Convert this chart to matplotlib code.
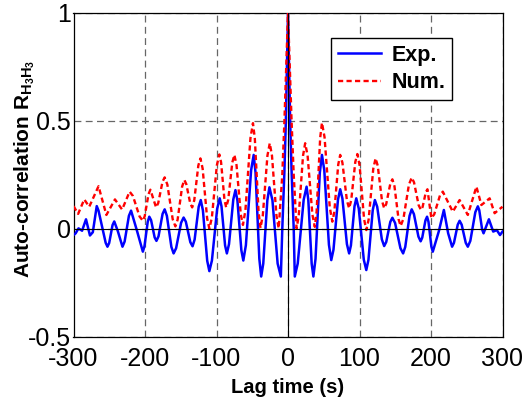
import matplotlib
matplotlib.use('Agg')
import matplotlib.pyplot as plt

plt.rcParams['font.family'] = ['Liberation Sans', 'DejaVu Sans']
plt.rcParams['axes.unicode_minus'] = False
plt.rcParams['mathtext.fontset'] = 'custom'
plt.rcParams['mathtext.rm'] = 'Liberation Sans'
plt.rcParams['mathtext.bf'] = 'Liberation Sans:bold'
plt.rcParams['mathtext.it'] = 'Liberation Sans:italic'

# ---- data ----
lag_exp = [-300, -297, -293, -288, -282.5, -277, -273, -267.5, -265, -261, -255, -252.5,
           -250.1, -245.4, -243, -238, -231.5, -228.5, -222.5, -219.5, -211.5, -203,
           -200.8, -196.2, -194, -191.5, -186.5, -184, -181.1, -175.4, -172.5,
           -169.4, -163.1, -160, -156.5, -149.5, -146, -142.9, -136.6, -133.5,
           -130.6, -124.9, -122, -119, -113, -110, -106.4, -99.1, -95.5, -93, -88,
           -85.5, -82.5, -76.5, -73.5, -70.75, -65.25, -62.5, -58.9, -51.6, -48,
           -45.4, -40.1, -37.5, -34.6, -28.9, -26, -21.75, -14.5, -10, -8, -5, -3,
           0,
           3, 5, 8, 9.5, 13.6, 21.9, 26, 28.4, 33.1, 35.5, 38.5, 44.5, 47.5, 50.75,
           57.25, 60.5, 63.6, 69.9, 73, 76.1, 82.4, 85.5, 88, 93, 95.5, 99, 106,
           109.5, 112.5, 118.5, 121.5, 124.75, 131.25, 134.5, 137.4, 143.1, 146,
           149.75, 157.25, 161, 164, 170, 173, 176.1, 182.4, 185.5, 187.75, 192.25,
           194.5, 196.5, 200.5, 202.5, 211, 218, 224, 229.5, 232.1, 237.4, 240,
           242.9, 248.6, 251.5, 255, 262, 265.5, 267.5, 271.5, 273.5, 281, 287,
           292, 296.5, 300]
val_exp = [-0.028, -0.02, 0.003, -0.008, 0.045, -0.03, -0.015, 0.106, 0.085, 0.025, -0.064, -0.082,
           -0.065, 0.018, 0.035, -0.01, -0.082, -0.058, 0.061, 0.085, -0.005, -0.105,
           -0.081, 0.033, 0.057, 0.041, -0.039, -0.055, -0.034, 0.07, 0.091,
           0.061, -0.083, -0.113, -0.089, 0.029, 0.053, 0.034, -0.061, -0.08,
           -0.049, 0.103, 0.134, 0.086, -0.147, -0.195, -0.146, 0.093, 0.142, 0.105, -0.076,
           -0.113, -0.07, 0.137, 0.18, 0.132, -0.098, -0.146, -0.075, 0.272, 0.343,
           0.261, -0.138, -0.22, -0.16, 0.133, 0.193, 0.133, -0.16, -0.22, 0.0, 0.27, 0.5,
           1.0,
           0.5, 0.27, 0.0, -0.22, -0.16, 0.135, 0.196, 0.135, -0.16, -0.22, -0.138, 0.261, 0.343, 0.272,
           -0.073, -0.144, -0.096, 0.136, 0.184, 0.141, -0.07, -0.113, -0.076, 0.105, 0.142, 0.094, -0.142,
           -0.19, -0.143, 0.087, 0.134, 0.103, -0.048, -0.079, -0.06, 0.033, 0.052,
           0.028, -0.089, -0.113, -0.083, 0.061, 0.091, 0.069, -0.035, -0.057, -0.04, 0.04,
           0.057, 0.033, -0.081, -0.105, -0.01, 0.088, -0.02, -0.082, -0.064, 0.02, 0.038,
           0.02, -0.064, -0.082, -0.055, 0.078, 0.105, 0.087, -0.002, -0.02, 0.045, -0.012,
           -0.005, -0.028, -0.012]

lag_num = [-300, -293.5, -285, -278, -265, -254, -242, -232, -221.5, -216.9, -207.6, -203,
           -200.4, -195.1, -192.5, -184.5, -181.5, -175.5, -172.5, -168.75, -161.25,
           -157.5, -154.4, -148.1, -145, -142.25, -136.75, -134, -131.1, -125.4,
           -122.5, -119.4, -113.1, -110, -106.5, -99.5, -96, -93.6, -88.9, -86.5,
           -83.6, -77.9, -75, -72, -66, -63, -59.5, -52.5, -49, -46.4, -41.1, -38.5,
           -35.25, -28.75, -25.5, -22.4, -16.1, -13, -8, -5,
           0,
           5, 8, 12, 15, 21, 24, 27.4, 34.1, 37.5, 40, 45, 47.5, 51.1, 58.4, 62,
           64.75, 70.25, 73, 76.1, 82.4, 85.5, 88.4, 94.1, 97, 100.1, 106.4, 109.5,
           112.75, 119.25, 122.5, 125.5, 131.5, 134.5, 137.4, 143.1, 146, 148.9,
           154.6, 157.5, 161.4, 169.1, 173, 176.25, 182.75, 186, 188.25, 192.75,
           195, 200.5, 204.5, 212.5, 216.5, 230.5, 240, 251.5, 263.5, 270.5, 282,
           289, 295, 300]
val_num = [0.106, 0.07, 0.137, 0.103, 0.198, 0.065, 0.137, 0.09, 0.173, 0.153, 0.058, 0.038,
           0.059, 0.161, 0.182, 0.1, 0.12, 0.219, 0.239, 0.206, 0.045,
           0.012, 0.043, 0.196, 0.227, 0.208, 0.119, 0.1, 0.133, 0.294,
           0.327, 0.28, 0.049, 0.002, 0.052, 0.295, 0.345, 0.309, 0.136, 0.1,
           0.135, 0.308, 0.343, 0.296, 0.066, 0.019, 0.088, 0.421, 0.49, 0.419, 0.076, 0.005,
           0.062, 0.34, 0.397, 0.339, 0.061, 0.003, 0.25, 0.5,
           1.0,
           0.5, 0.25, 0.003, 0.061, 0.339, 0.397, 0.34, 0.067, 0.01, 0.08, 0.422, 0.492, 0.425, 0.101, 0.034,
           0.079, 0.298, 0.343, 0.307, 0.132, 0.096, 0.133, 0.31, 0.347, 0.296, 0.046, -0.005,
           0.043, 0.279, 0.327, 0.293, 0.13, 0.096, 0.116, 0.21, 0.23, 0.198,
           0.046, 0.014, 0.047, 0.205, 0.238, 0.216, 0.11, 0.088, 0.102, 0.17,
           0.184, 0.05, 0.068, 0.155, 0.173, 0.08, 0.134, 0.065, 0.196, 0.111, 0.142,
           0.073, 0.09, 0.103]

xticks = [-300, -200, -100, 0, 100, 200, 300]
xticklabels = ['-300', '-200', '-100', '0', '100', '200', '300']
yticks = [-0.5, 0, 0.5, 1]
yticklabels = ['-0.5', '0', '0.5', '1']

# ---- figure ----
fig = plt.figure(figsize=(5.28, 4.0), dpi=100)
ax = fig.add_axes([73.5 / 528, 63 / 400, 429 / 528, 324 / 400])

ax.plot(lag_exp, val_exp, color='#0000FF', lw=1.8, label='Exp.', zorder=3)
ax.plot(lag_num, val_num, color='#FF0000', lw=1.7, ls=(0, (2.2, 1.4)),
        label='Num.', zorder=3)
ax.axhline(0, color='k', lw=0.8, zorder=4)
ax.axvline(0, color='k', lw=0.8, zorder=4)

ax.set_xlim(-300, 300)
ax.set_ylim(-0.5, 1)
ax.set_xticks(xticks)
ax.set_xticklabels(xticklabels)
ax.set_yticks(yticks)
ax.set_yticklabels(yticklabels)
ax.tick_params(axis='both', length=0, labelsize=18)
ax.tick_params(axis='x', pad=7.5)
ax.tick_params(axis='y', pad=2)
ax.grid(True, color='0.4', lw=0.9, ls=(0, (5.5, 3.5)))
ax.set_axisbelow(True)
for sp in ax.spines.values():
    sp.set_color('k')
    sp.set_linewidth(0.9)

ax.set_xlabel('Lag time (s)', fontsize=14.5, fontweight='bold', labelpad=4.5)
ax.set_ylabel(r'Auto-correlation R$_{\mathbf{H}_{\mathbf{3}}\mathbf{H}_{\mathbf{3}}}$',
              fontsize=15, fontweight='bold')
ax.yaxis.set_label_coords(-0.085, 0.52)

leg = ax.legend(loc='upper right', bbox_to_anchor=(0.882, 0.922),
                borderaxespad=0, prop={'weight': 'bold', 'size': 15.5},
                fancybox=False, framealpha=1, edgecolor='k',
                handlelength=2.0, handletextpad=0.5, borderpad=0.3,
                labelspacing=0.3)
leg.get_frame().set_linewidth(1.0)

fig.savefig('out.png', dpi=100)
